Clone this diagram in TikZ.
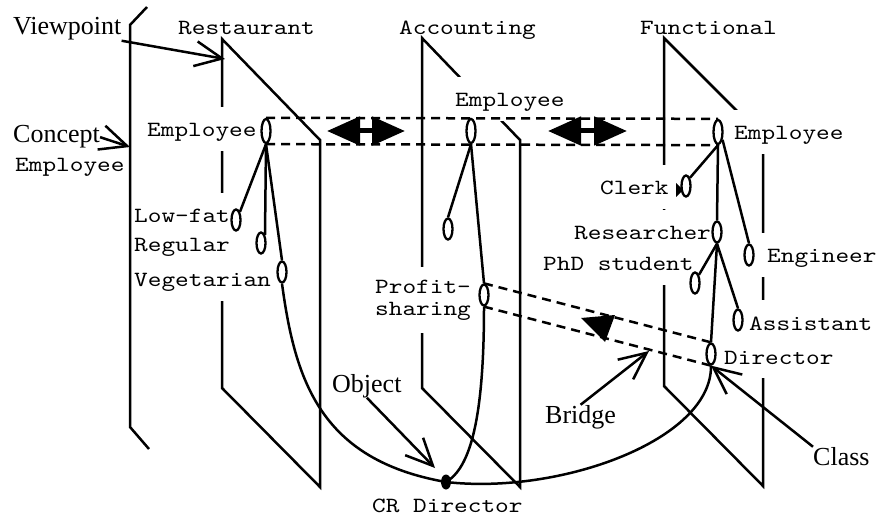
\documentclass[tikz,border=0pt]{standalone}
\usepackage{fontspec}
\setmainfont{Liberation Serif}
\setmonofont{lmmono10-regular.otf}[FakeStretch=1.2]
\usetikzlibrary{shapes.geometric,arrows.meta}

\tikzset{
  plane/.style={line width=2.5pt, line join=miter},
  cls/.style={draw, ellipse, line width=2.3pt, inner sep=0pt, minimum width=9pt, minimum height=21pt},
  clshead/.style={cls, minimum height=24pt},
  obj/.style={fill, ellipse, inner sep=0pt, minimum width=10pt, minimum height=15pt},
  mono/.style={font=\ttfamily\fontsize{21.7}{22}\selectfont, inner sep=0pt, anchor=base west},
  lbl/.style={mono, fill=white, inner xsep=2pt, text height=20pt, text depth=4pt, minimum height=44pt},
  serif/.style={font=\fontsize{26}{26}\selectfont, inner sep=0pt, anchor=base west},
  link/.style={line width=2.5pt},
  bridge/.style={line width=2.5pt, dash pattern=on 9pt off 6pt},
  pointer/.style={line width=2.5pt, -{Straight Barb[length=27pt,width=25pt]}},
  dblhead/.style={line width=5pt, {Triangle[length=33pt,width=28pt]}-{Triangle[length=33pt,width=28pt]}},
}

\begin{document}
\begin{tikzpicture}[x=1pt,y=-1pt]
	\useasboundingbox (0,0) rectangle (877,518);

	% viewpoints
	\draw[plane] (147,7) -- (130,25) -- (130,427) -- (149,449);
	\draw[plane] (222,39) -- (320,140) -- (320,487) -- (222,388) -- cycle;
	\draw[plane] (422,38) -- (520,140) -- (520,487) -- (422,388) -- cycle;
	\draw[plane] (664,38) -- (763,137) -- (763,486) -- (664,386) -- cycle;

	\node[mono] (restaurant) at (178,35) {Restaurant};
	\node[mono] (accounting) at (399,35) {Accounting};
	\node[mono] (functional) at (640,35) {Functional};

	% class labels
	\node[lbl] (tEmpR) at (145,137) {Employee};
	\node[lbl] (tLowfat) at (132,223) {Low-fat};
	\node[lbl] (tRegular) at (132,252) {Regular};
	\node[lbl] (tVeg) at (132,287) {Vegetarian};
	\node[lbl] (tEmpA) at (453,107) {Employee};
	\node[mono, fill=white, inner xsep=2pt, align=left, minimum height=65pt, anchor=west] (tProfit) at (373,300) {Profit-\\sharing};
	\node[lbl] (tEmpF) at (732,140) {Employee};
	\node[lbl] (tClerk) at (598,195) {Clerk};
	\node[lbl] (tResearch) at (572,240) {Researcher};
	\node[lbl] (tPhd) at (541,271) {PhD student};
	\node[lbl, inner xsep=6pt] (tEngineer) at (761,263) {Engineer};
	\node[lbl] (tAssist) at (747,330) {Assistant};
	\node[lbl] (tDirector) at (722,364) {Director};
	\node[mono] (tCR) at (372,512) {CR Director};
	\node[mono] (tConcept) at (15,172) {Employee};

	% classes
	\node[clshead] (empR) at (266,131) {};
	\node[clshead] (empA) at (471,131) {};
	\node[clshead] (empF) at (718,132) {};
	\node[cls] (lowfat) at (236,220) {};
	\node[cls] (regular) at (261,243) {};
	\node[cls] (veg) at (282,272) {};
	\node[cls] (accsub) at (448,229) {};
	\node[cls] (profit) at (484,295) {};
	\node[cls] (clerk) at (686,186) {};
	\node[cls] (research) at (717,232) {};
	\node[cls] (engineer) at (749,255) {};
	\node[cls] (phd) at (695,283) {};
	\node[cls] (assist) at (738,320) {};
	\node[cls] (director) at (711,354) {};
	\node[obj] (crdir) at (446,482) {};

	\draw[link] (empR.south) -- (lowfat.north east);
	\draw[link] (empR.south) -- (regular.north east);
	\draw[link] (empR.south) -- (veg.north);
	\draw[link] (empA.south) -- (accsub.north);
	\draw[link] (empA.south) -- (profit.north);
	\draw[link] (empF.south) -- (clerk.north east);
	\draw[link] (empF.south) -- (research.north);
	\draw[link] (empF.-60) -- (engineer.north);
	\draw[link] (research.south) -- (phd.north east);
	\draw[link] (research.south) -- (assist.north);
	\draw[link] (research.south) -- (director.north);
	\fill (676,183) -- (683,190) -- (676,197) -- cycle;

	% object
	\draw[link] (veg.south) .. controls (295,380) and (320,460) .. (crdir.center)
		.. controls (560,495) and (712,440) .. (director.south);
	\draw[link] (profit.south) .. controls (484,420) and (470,468) .. (crdir.center);

	% bridges
	\draw[bridge] (empR.north) -- (empF.north);
	\draw[bridge] (empR.south) -- (empF.south);
	\draw[dblhead] (327,131) -- (405,131);
	\draw[dblhead] (548,131) -- (627,131);
	\draw[bridge] (profit.north) -- (director.north);
	\draw[bridge] (profit.south) -- (director.south);
	\fill (581,318) -- (615,315) -- (605,342) -- cycle;

	% pointers
	\node[serif] (viewpoint) at (13,35) {Viewpoint};
	\node[serif] (concept) at (13,143) {Concept};
	\node[serif] (object) at (332,392) {Object};
	\node[serif] (bridge) at (545,423) {Bridge};
	\node[serif] (class) at (813,465) {Class};
	\coordinate (vpTip) at (225,59);
	\coordinate (conceptTip) at (130,147);
	\coordinate (objTip) at (435,468);
	\coordinate (bridgeTip) at (649,351);
	\draw[pointer] (viewpoint.south east) -- (vpTip);
	\draw[pointer] (concept.east) -- (conceptTip);
	\draw[pointer] (object.south) -- (objTip);
	\draw[pointer] (bridge.north) -- (bridgeTip);
	\draw[pointer] (class.north west) -- (director.south);
\end{tikzpicture}
\end{document}
